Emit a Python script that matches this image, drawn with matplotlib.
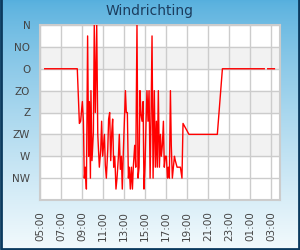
import numpy as np
import pandas as pd
import matplotlib
matplotlib.use("Agg")
import matplotlib.pyplot as plt
import matplotlib.dates as mdates

# wind direction samples (time of day, sector index 1=NW .. 8=N)
tijden = ["05:23", "08:26", "08:33", "08:45", "08:52", "09:02", "09:08", "09:13", "09:19", "09:25",
          "09:32", "09:38", "09:42", "09:48", "09:51", "09:57", "10:05", "10:10", "10:16", "10:24",
          "10:30", "10:39", "10:47", "10:52", "10:58", "11:08", "11:13", "11:19", "11:27", "11:32",
          "11:38", "11:44", "11:50", "11:55", "12:01", "12:07", "12:10", "12:14", "12:20", "12:28",
          "12:33", "12:39", "12:45", "12:50", "12:56", "13:02", "13:08", "13:13", "13:19", "13:25",
          "13:30", "13:36", "13:42", "13:48", "13:53", "14:01", "14:07", "14:14", "14:20", "14:26",
          "14:31", "14:37", "14:43", "14:49", "14:54", "15:00", "15:06", "15:11", "15:17", "15:23",
          "15:29", "15:34", "15:40", "15:46", "15:53", "15:59", "16:05", "16:10", "16:16", "16:22",
          "16:28", "16:33", "16:39", "16:45", "16:50", "16:56", "17:02", "17:08", "17:13", "17:19",
          "17:25", "17:30", "17:36", "17:42", "17:48", "17:53", "18:03", "18:22", "18:31", "18:37",
          "19:11", "21:53", "22:22", "02:25", "02:30", "02:37", "03:23"]
richting = [6, 6, 6, 3.5, 3.6, 4.5, 3.6, 1.0, 1.5, 0.5,
            7.5, 2, 4.5, 1, 5, 1.8, 3.1, 8, 4, 8,
            3, 1.5, 2.3, 3.6, 2, 3, 1.6, 1, 2.3, 3.7,
            4, 1.8, 3.1, 3.7, 1.5, 2, 1.4, 0.5, 1, 2,
            3, 1.4, 2, 0.5, 2.2, 3.6, 5, 4, 4, 1,
            1.5, 0.5, 1.5, 0.5, 1.5, 2.5, 1.5, 8, 1, 1.5,
            5, 3.9, 3.6, 4.5, 0.5, 1.6, 3.6, 5, 3.6, 5,
            1, 3.6, 7.5, 1, 5, 1.5, 3.6, 1.5, 5, 1.5,
            3, 2, 2.5, 3.6, 1.5, 2, 2, 1, 1.5, 1,
            5, 2.5, 1, 1.5, 2, 1.8, 1.5, 1.5, 1, 3.5,
            3, 3, 6, 6, np.nan, 6, 6]
sectoren = ["NW", "W", "ZW", "Z", "ZO", "O", "NO", "N"]

# times after midnight belong to the next day
t = pd.to_datetime(["2024-01-01 " + s for s in tijden])
dagen = np.cumsum(np.r_[0, np.diff(t.hour * 60 + t.minute) < 0])
t = t + pd.to_timedelta(dagen, unit="D")

fig = plt.figure(figsize=(3, 2.5), dpi=100)

# background gradient
bg = fig.add_axes([0, 0, 1, 1], zorder=-10)
grad = np.linspace(0, 1, 256).reshape(-1, 1)
top = np.array([0.34, 0.69, 0.87])
bot = np.array([0.95, 0.98, 0.99])
kleur = top + (bot - top) * grad[:, :, None] ** 0.8
bg.imshow(kleur, aspect="auto", extent=[0, 1, 0, 1], origin="upper")
bg.plot([0.003, 0.003, 0.997, 0.997], [1, 0.004, 0.004, 1], color="#0b3a5e", lw=2,
        transform=bg.transAxes, clip_on=False)
bg.set_xlim(0, 1)
bg.set_ylim(0, 1)
bg.set_axis_off()

ax = fig.add_axes([40 / 300, 50 / 250, 240 / 300, 175 / 250])
ax.set_facecolor("white")
for lo in (2, 4, 6):
    ax.axhspan(lo, lo + 1, color="#f2f2f2", zorder=0)

ax.plot(t, richting, color="red", lw=1, zorder=3, solid_capstyle="butt")

ax.set_ylim(0, 8)
ax.set_yticks(range(1, 9))
ax.set_yticklabels(sectoren)
ax.set_xlim(pd.Timestamp("2024-01-01 05:00"), pd.Timestamp("2024-01-02 03:51"))
ax.xaxis.set_major_locator(mdates.HourLocator(byhour=range(1, 24, 2)))
ax.xaxis.set_major_formatter(mdates.DateFormatter("%H:%M"))
ax.tick_params(axis="x", rotation=90, length=0, pad=8, labelsize=7.5, labelcolor="#444444")
ax.tick_params(axis="y", length=0, pad=7, labelsize=7.5, labelcolor="#444444")
ax.grid(True, color="#cccccc", lw=1)
ax.set_axisbelow(True)
for sp in ax.spines.values():
    sp.set_color("#cccccc")
    sp.set_linewidth(1.5)

fig.text(0.5, 1 - 11 / 250, "Windrichting", ha="center", va="center",
         fontsize=10, color="#1c3d5e")

fig.savefig("out.png", dpi=100)
